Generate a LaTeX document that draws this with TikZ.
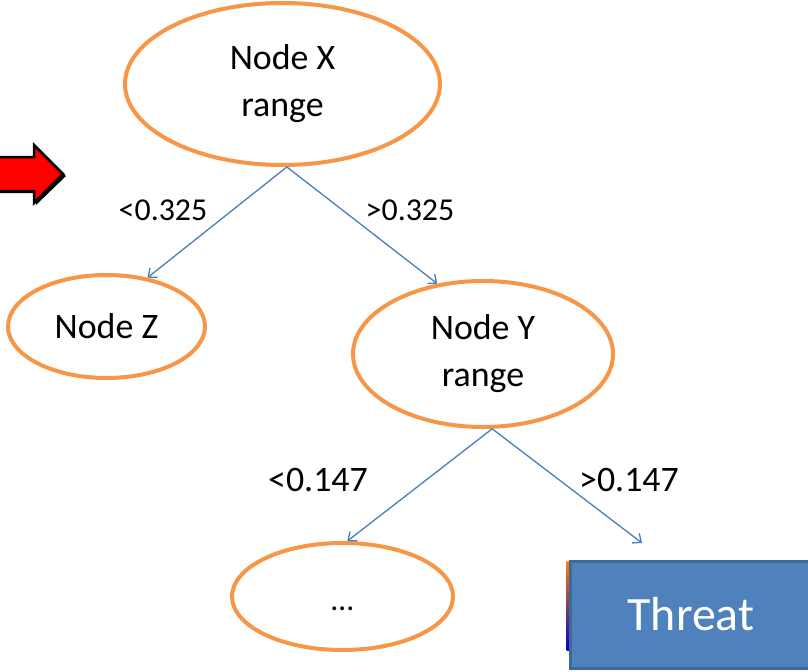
\documentclass[tikz,border=0pt]{standalone}
\usepackage{fontspec}
\setmainfont{Carlito}
\usetikzlibrary{arrows.meta,shapes.geometric}
\definecolor{ovaledge}{HTML}{F79646}
\definecolor{linkblue}{HTML}{4A7EBB}
\definecolor{boxfill}{HTML}{4F81BD}
\definecolor{boxedge}{HTML}{3E6A99}
\definecolor{pointer}{HTML}{FF0000}

\begin{document}
\begin{tikzpicture}[x=1bp,y=-1bp,
  oval/.style={ellipse, draw=ovaledge, line width=4bp, inner sep=0pt,
    align=center, font=\fontsize{36}{47}\selectfont},
  link/.style={draw=linkblue, line width=1.3bp,
    -{Straight Barb[length=7bp,width=12bp,line width=1.3bp]}},
  cond/.style={anchor=base, inner sep=0pt},
  leafbox/.style={rectangle, draw=boxedge, line width=3bp, fill=boxfill,
    text=white, inner sep=0pt, font=\fontsize{48}{56}\selectfont}
]
\useasboundingbox (0,0) rectangle (808,672);
\clip (0,0) rectangle (808,672);

% red pointer arrow on the left, with a dark drop shadow
\fill[black] (-10,159) -- (36,159) -- (36,147) -- (66,176) -- (36,205)
  -- (36,193) -- (-10,193) -- cycle;
\draw[black, line width=2.5bp, fill=pointer, line join=miter]
  (-10,157) -- (34,157) -- (34,145) -- (63,174) -- (34,203)
  -- (34,191) -- (-10,191) -- cycle;

% tree nodes
\node[oval, minimum width=315bp, minimum height=162bp] (X) at (282.5,84) {Node X\\range};
\node[oval, minimum width=197bp, minimum height=103bp] (Z) at (106.5,326.5) {Node Z};
\node[oval, minimum width=260bp, minimum height=146bp] (Y) at (483,354) {Node Y\\range};
\node[oval, minimum width=221bp, minimum height=107bp] (D) at (342.5,596.5)
  {\strut\raisebox{-5bp}{\fontsize{32}{40}\selectfont …}};

% leaf box with its thin coloured edge strip
\shade[top color=orange, middle color=red, bottom color=blue!80!black]
  (566.5,561) rectangle (568.8,650);
\node[leafbox, minimum width=242bp, minimum height=107bp] (T) at (691,614.5) {Threat};
\coordinate (Tin) at (642,543);

% branches
\draw[link] (X.-87) -- (Z.50);
\draw[link] (X.-87) -- (Y.123);
\draw[link] (Y.-83) -- (D.85);
\draw[link] (Y.-83) -- (Tin);

% branch conditions
\node[cond, font=\fontsize{32}{38}\selectfont] (c1) at (163,220) {<0.325};
\node[cond, font=\fontsize{32}{38}\selectfont] (c2) at (410,220) {>0.325};
\node[cond, font=\fontsize{36}{42}\selectfont] (c3) at (318,491) {<0.147};
\node[cond, font=\fontsize{36}{42}\selectfont] (c4) at (629,491) {>0.147};
\end{tikzpicture}
\end{document}
